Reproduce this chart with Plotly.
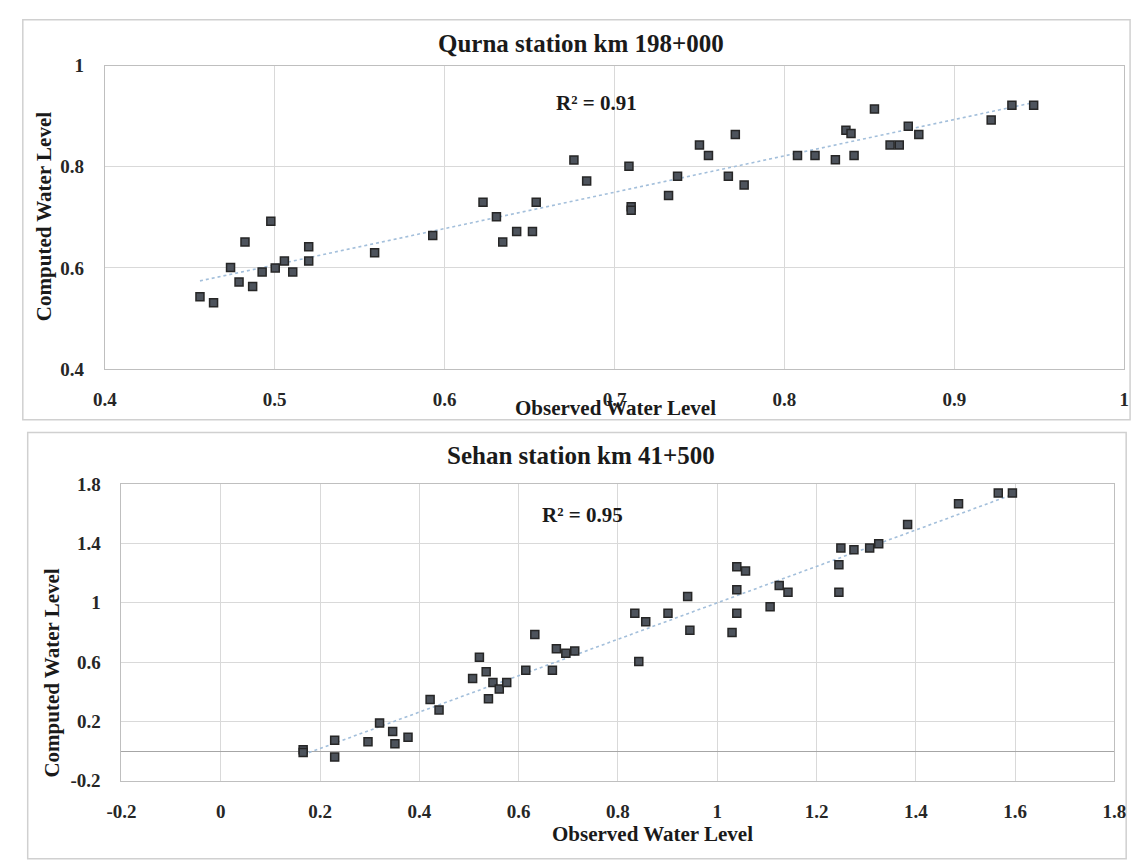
import numpy as np
import plotly.graph_objects as go

# ---------------- data ----------------
qurna_observed = [0.456, 0.464, 0.474, 0.4825, 0.479, 0.487, 0.4926, 0.4977, 0.5003, 0.5057,
                  0.5106, 0.520, 0.520, 0.5588, 0.593, 0.6226, 0.6305, 0.6342, 0.6424, 0.6517,
                  0.6539, 0.6761, 0.6836, 0.7085, 0.7098, 0.7098, 0.7318, 0.7371, 0.750, 0.7553,
                  0.767, 0.7711, 0.7763, 0.8077, 0.818, 0.830, 0.8362, 0.8392, 0.841, 0.853,
                  0.8622, 0.8676, 0.8729, 0.8791, 0.9217, 0.9339, 0.9467]
qurna_computed = [0.543, 0.531, 0.601, 0.651, 0.572, 0.563, 0.592, 0.692, 0.600, 0.6135,
                  0.592, 0.642, 0.6135, 0.630, 0.664, 0.730, 0.701, 0.651, 0.672, 0.672,
                  0.730, 0.8135, 0.772, 0.801, 0.721, 0.714, 0.743, 0.781, 0.843, 0.8225,
                  0.781, 0.864, 0.764, 0.8225, 0.8225, 0.814, 0.872, 0.866, 0.8225, 0.914,
                  0.843, 0.843, 0.880, 0.864, 0.8926, 0.9215, 0.9215]

sehan_observed = [0.166, 0.166, 0.2295, 0.2295, 0.2966, 0.3199, 0.3463, 0.3508, 0.3772, 0.4217,
                  0.4397, 0.5073, 0.521, 0.5346, 0.5392, 0.5482, 0.561, 0.576, 0.6144, 0.6326,
                  0.668, 0.676, 0.695, 0.713, 0.834, 0.856, 0.842, 0.9008, 0.9404, 0.9449,
                  1.0298, 1.0394, 1.0394, 1.0394, 1.057, 1.1065, 1.1248, 1.1425, 1.245, 1.245,
                  1.249, 1.2753, 1.307, 1.3252, 1.3834, 1.486, 1.566, 1.5945]
sehan_computed = [0.01, -0.01, 0.074, -0.04, 0.063, 0.19, 0.133, 0.05, 0.094, 0.348,
                  0.278, 0.489, 0.633, 0.535, 0.353, 0.462, 0.418, 0.462, 0.545, 0.787,
                  0.545, 0.690, 0.660, 0.675, 0.93, 0.872, 0.605, 0.93, 1.043, 0.815,
                  0.80, 0.93, 1.088, 1.243, 1.214, 0.973, 1.116, 1.072, 1.072, 1.256,
                  1.37, 1.357, 1.37, 1.399, 1.528, 1.668, 1.741, 1.741]

qurna_title = "Qurna station km 198+000"
sehan_title = "Sehan station km 41+500"
qurna_r2 = "R² = 0.91"
sehan_r2 = "R² = 0.95"
x_title = "Observed Water Level"
y_title = "Computed Water Level"

qurna_xticks = [0.4, 0.5, 0.6, 0.7, 0.8, 0.9, 1.0]
qurna_xlabels = ["0.4", "0.5", "0.6", "0.7", "0.8", "0.9", "1"]
qurna_yticks = [0.4, 0.6, 0.8, 1.0]
qurna_ylabels = ["0.4", "0.6", "0.8", "1"]
sehan_xticks = [-0.2, 0, 0.2, 0.4, 0.6, 0.8, 1.0, 1.2, 1.4, 1.6, 1.8]
sehan_xlabels = ["-0.2", "0", "0.2", "0.4", "0.6", "0.8", "1", "1.2", "1.4", "1.6", "1.8"]
sehan_yticks = [-0.2, 0.2, 0.6, 1.0, 1.4, 1.8]
sehan_ylabels = ["-0.2", "0.2", "0.6", "1", "1.4", "1.8"]

# ---------------- figure ----------------
W, H = 1145, 863
SERIF = "Liberation Serif, Times New Roman, serif"
MARK = dict(symbol="square", size=8, color="#4d535c",
            line=dict(color="#262626", width=1.5))
TREND = dict(color="#a3bfdb", width=1.6, dash="dot")


def px_x(p):
    return p / W


def px_y(p):
    return 1 - p / H


def trend(xs, ys):
    xs = np.asarray(xs)
    ys = np.asarray(ys)
    m, b = np.polyfit(xs, ys, 1)
    xx = np.array([xs.min(), xs.max()])
    return xx, m * xx + b


fig = go.Figure()

tx, ty = trend(qurna_observed, qurna_computed)
fig.add_trace(go.Scatter(x=tx, y=ty, mode="lines", line=TREND, xaxis="x", yaxis="y",
                         showlegend=False, hoverinfo="skip"))
fig.add_trace(go.Scatter(x=qurna_observed, y=qurna_computed, mode="markers", marker=MARK,
                         xaxis="x", yaxis="y", showlegend=False))

tx2, ty2 = trend(sehan_observed, sehan_computed)
fig.add_trace(go.Scatter(x=tx2, y=ty2, mode="lines", line=TREND, xaxis="x2", yaxis="y2",
                         showlegend=False, hoverinfo="skip"))
fig.add_trace(go.Scatter(x=sehan_observed, y=sehan_computed, mode="markers", marker=MARK,
                         xaxis="x2", yaxis="y2", showlegend=False))

tickfont = dict(family=SERIF, size=19, color="#262626", weight="bold")
grid = "#d9d9d9"

common_ax = dict(showgrid=True, gridcolor=grid, gridwidth=1, linecolor="#bfbfbf",
                 showline=True, mirror=True, ticks="", tickfont=tickfont,
                 fixedrange=True, zeroline=False)

fig.update_layout(
    width=W, height=H, autosize=False,
    margin=dict(l=0, r=0, t=0, b=0),
    paper_bgcolor="white", plot_bgcolor="white",
    xaxis=dict(domain=[px_x(92), px_x(1136)], range=[0.4, 1.0], anchor="y",
               tickvals=qurna_xticks, ticktext=qurna_xlabels, ticklabelstandoff=13,
               **common_ax),
    yaxis=dict(domain=[px_y(368), px_y(57)], range=[0.4, 1.0], anchor="x",
               tickvals=qurna_yticks, ticktext=qurna_ylabels, ticklabelstandoff=16,
               **common_ax),
    xaxis2=dict(domain=[px_x(109), px_x(1126)], range=[-0.2, 1.8], anchor="y2",
                tickvals=sehan_xticks, ticktext=sehan_xlabels, ticklabelstandoff=13,
                **common_ax),
    yaxis2=dict(domain=[px_y(790), px_y(486)], range=[-0.2, 1.8], anchor="x2",
                tickvals=sehan_yticks, ticktext=sehan_ylabels, ticklabelstandoff=16,
                **common_ax),
)
fig.update_layout(yaxis2=dict(zeroline=True, zerolinecolor="#a6a6a6", zerolinewidth=1.2))

# outer chart boxes
fig.add_shape(type="rect", xref="paper", yref="paper",
              x0=px_x(8), x1=px_x(1142), y0=px_y(420), y1=px_y(10),
              line=dict(color="#d0d0d0", width=1.5), layer="below")
fig.add_shape(type="rect", xref="paper", yref="paper",
              x0=px_x(13), x1=px_x(1138), y0=px_y(870), y1=px_y(433),
              line=dict(color="#d0d0d0", width=1.5), layer="below")

titlefont = dict(family=SERIF, size=25, color="#1a1a1a")
axfont = dict(family=SERIF, size=21, color="#1a1a1a")
r2font = dict(family=SERIF, size=21, color="#1a1a1a")


def txt(text, x, y, font, angle=0):
    fig.add_annotation(text="<b>%s</b>" % text, x=px_x(x), y=px_y(y), xref="paper",
                       yref="paper", showarrow=False, font=font, textangle=angle,
                       xanchor="center", yanchor="middle")


txt(qurna_title, 580, 34, titlefont)
txt(sehan_title, 580, 457, titlefont)
txt(x_title, 615, 408, axfont)
txt(x_title, 653, 845, axfont)
txt(y_title, 30, 212, axfont, -90)
txt(y_title, 38, 680, axfont, -90)
txt(qurna_r2, 596, 95, r2font)
txt(sehan_r2, 581, 518, r2font)

fig.write_html("out.html", config={"displayModeBar": False},
               post_script="document.body.style.margin='0';document.body.style.overflow='hidden';")
